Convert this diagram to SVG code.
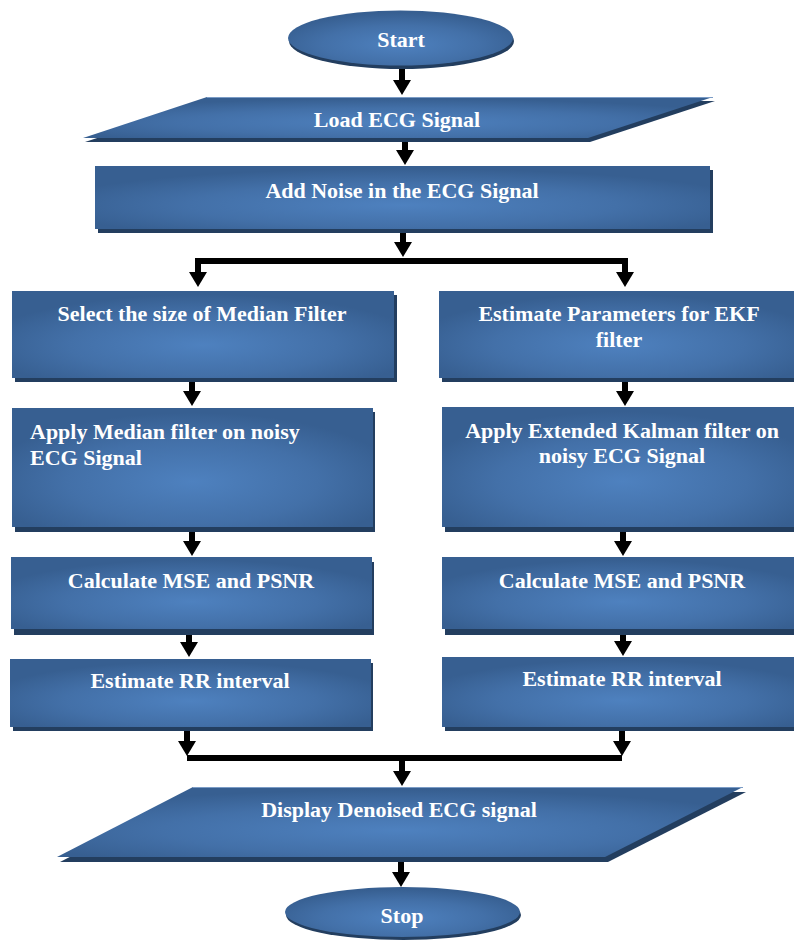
<svg xmlns="http://www.w3.org/2000/svg" width="794" height="942" viewBox="0 0 794 942">
<defs>
<radialGradient id="g" cx="50%" cy="62%" r="58%">
<stop offset="0" stop-color="#4e81bf"/>
<stop offset="0.6" stop-color="#4370a8"/>
<stop offset="1" stop-color="#375f91"/>
</radialGradient>
<marker id="ah" markerUnits="userSpaceOnUse" markerWidth="20" markerHeight="20" viewBox="0 -10 16 20" refX="1" refY="0" orient="auto">
<path d="M0,-9 L15,0 L0,9 Z" fill="#000"/>
</marker>
</defs>
<style>
.sh{fill:#233e5f}
.bx{fill:url(#g);stroke:#5b85b9;stroke-width:0}
.hl{stroke:#7b9cc6;stroke-width:1}
.t{font-family:"Liberation Serif","Times New Roman",serif;font-weight:bold;font-size:22px;fill:#fff}
.c{text-anchor:middle}
.cn{fill:none;stroke:#000;stroke-width:6;stroke-linejoin:miter}
</style>
<rect width="794" height="942" fill="#fff"/>

<g id="connectors">
<path class="cn" d="M402,66 V81" marker-end="url(#ah)"/>
<path class="cn" d="M405,140 V151" marker-end="url(#ah)"/>
<path class="cn" d="M403,231 V243" marker-end="url(#ah)"/>
<path class="cn" d="M403,261 H198 V273" marker-end="url(#ah)"/>
<path class="cn" d="M403,261 H625 V273" marker-end="url(#ah)"/>
<path class="cn" d="M192,381 V392" marker-end="url(#ah)"/>
<path class="cn" d="M192,531 V542" marker-end="url(#ah)"/>
<path class="cn" d="M189,634 V643" marker-end="url(#ah)"/>
<path class="cn" d="M187,730 V742" marker-end="url(#ah)"/>
<path class="cn" d="M625,381 V392" marker-end="url(#ah)"/>
<path class="cn" d="M623,531 V542" marker-end="url(#ah)"/>
<path class="cn" d="M623,634 V642" marker-end="url(#ah)"/>
<path class="cn" d="M622,730 V742" marker-end="url(#ah)"/>
<path class="cn" d="M187,758 H622"/>
<path class="cn" d="M402,758 V772" marker-end="url(#ah)"/>
<path class="cn" d="M401,861 V873" marker-end="url(#ah)"/>
</g>

<g id="start">
<ellipse class="sh" cx="401.5" cy="41" rx="112.5" ry="28"/>
<ellipse class="bx" cx="400.5" cy="38" rx="112.5" ry="27.5"/>
<text class="t c" x="401" y="47">Start</text>
</g>

<g id="load">
<polygon class="sh" points="209,101 715,101 590,142 85,142"/>
<polygon class="bx" points="207,97 713,97 588,138 83,138"/>
<line class="hl" x1="207" y1="97.5" x2="713" y2="97.5"/>
<text class="t c" x="397" y="127">Load ECG Signal</text>
</g>

<g id="addnoise">
<rect class="sh" x="98" y="170" width="615" height="63"/>
<rect class="bx" x="95" y="166" width="615" height="63"/>
<text class="t c" x="402" y="198">Add Noise in the ECG Signal</text>
</g>

<g id="selectmedian">
<rect class="sh" x="15" y="295" width="382" height="87"/>
<rect class="bx" x="12" y="291" width="382" height="87"/>
<text class="t c" x="202" y="321">Select the size of Median Filter</text>
</g>

<g id="ekfparams">
<rect class="sh" x="442" y="295" width="360" height="87"/>
<rect class="bx" x="439" y="291" width="360" height="87"/>
<text class="t c" x="619" y="321">Estimate Parameters for EKF</text>
<text class="t c" x="619" y="347">filter</text>
</g>

<g id="applymedian">
<rect class="sh" x="15" y="412" width="360" height="120"/>
<rect class="bx" x="12" y="408" width="361" height="119"/>
<text class="t" x="30" y="439">Apply Median filter on noisy</text>
<text class="t" x="30" y="465">ECG Signal</text>
</g>

<g id="applyekf">
<rect class="sh" x="445" y="411" width="360" height="121"/>
<rect class="bx" x="442" y="407" width="360" height="120"/>
<text class="t c" x="622" y="438">Apply Extended Kalman filter on</text>
<text class="t c" x="622" y="463">noisy ECG Signal</text>
</g>

<g id="calcleft">
<rect class="sh" x="14" y="562" width="360" height="73"/>
<rect class="bx" x="11" y="557" width="361" height="72"/>
<text class="t c" x="191" y="588">Calculate MSE and PSNR</text>
</g>

<g id="calcright">
<rect class="sh" x="445" y="562" width="360" height="73"/>
<rect class="bx" x="442" y="557" width="360" height="72"/>
<text class="t c" x="622" y="588">Calculate MSE and PSNR</text>
</g>

<g id="rrleft">
<rect class="sh" x="13" y="663" width="360" height="68"/>
<rect class="bx" x="10" y="659" width="361" height="68"/>
<text class="t c" x="190" y="688">Estimate RR interval</text>
</g>

<g id="rrright">
<rect class="sh" x="445" y="661" width="360" height="70"/>
<rect class="bx" x="442" y="657" width="360" height="70"/>
<text class="t c" x="622" y="686">Estimate RR interval</text>
</g>

<g id="display">
<polygon class="sh" points="196,792 746,792 608,862 60,862"/>
<polygon class="bx" points="193,787 743,787 605,857 57,857"/>
<line class="hl" x1="193" y1="787.5" x2="743" y2="787.5"/>
<text class="t c" x="399" y="817">Display Denoised ECG signal</text>
</g>

<g id="stop">
<ellipse class="sh" cx="403.5" cy="915" rx="117.5" ry="25"/>
<ellipse class="bx" cx="402.5" cy="912" rx="117.5" ry="25"/>
<text class="t c" x="402" y="923">Stop</text>
</g>
</svg>
